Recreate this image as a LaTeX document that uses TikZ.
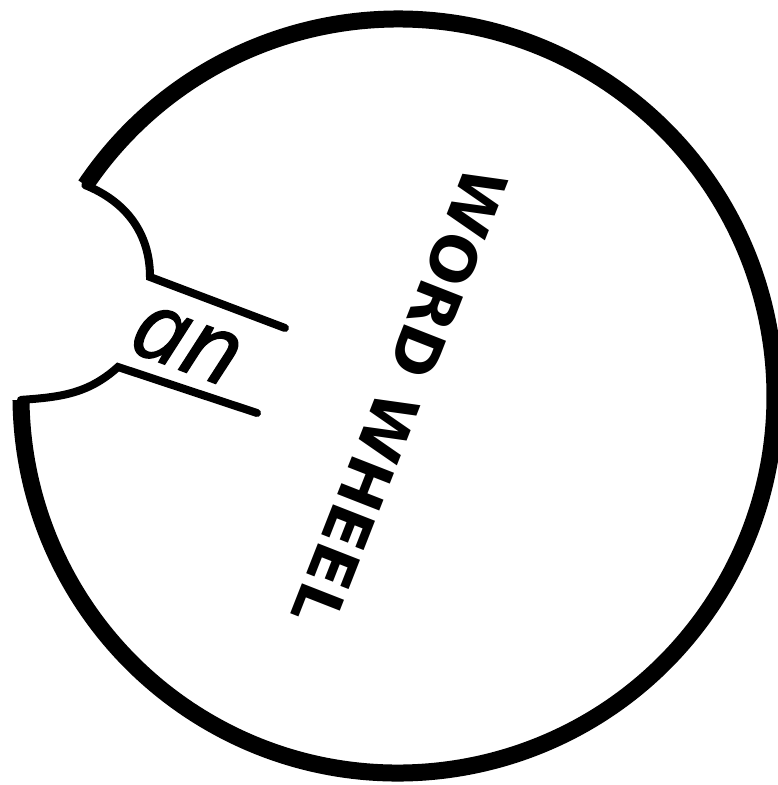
\documentclass[tikz,border=0pt]{standalone}
\usepackage{fontspec}
\newfontfamily\wwfont{DejaVu Sans}
\newfontfamily\anfont[ItalicFeatures={FakeBold=1.5}]{Open Sans}
\begin{document}
\begin{tikzpicture}[x=1pt,y=1pt,
  rim/.style={line width=17pt},
  notch/.style={line width=8pt, line join=miter, line cap=round},
  wwlabel/.style={font=\wwfont\bfseries\fontsize{62}{62}\selectfont, inner sep=0pt},
  anlabel/.style={font=\anfont\itshape\fontsize{95}{95}\selectfont, inner sep=0pt}]
\useasboundingbox (0,0) rectangle (778,785);
\coordinate (C) at (398,389);
\coordinate (topTip) at (85.4,599.8);
\coordinate (botEnd) at (21.0,385.1);
\coordinate (tA) at (150,508);
\coordinate (tB) at (285,457);
\coordinate (bA) at (118,418);
\coordinate (bB) at (257,372);
\draw[rim] (topTip) arc[start angle=146, end angle=-179.4, radius=377];
\draw[notch] (tB) -- (tA) to[out=90,in=-22] (topTip);
\draw[notch] (botEnd) to[out=4,in=222] (bA) -- (bB);
\node[wwlabel, rotate=-111.4] (ww) at (400,388) {WORD WHEEL};
\node[anlabel, rotate=-20.7] (an) at (186,440) {an};
\end{tikzpicture}
\end{document}
